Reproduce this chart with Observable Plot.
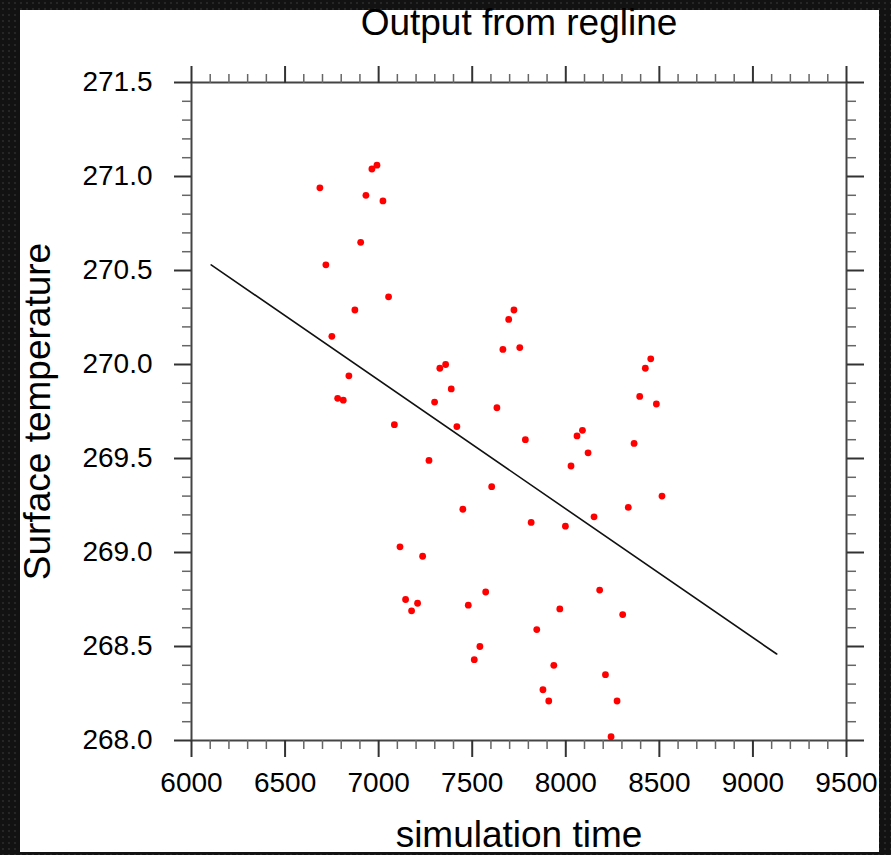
<!DOCTYPE html>
<html>
<head>
<meta charset="utf-8">
<script src="https://cdn.jsdelivr.net/npm/d3@7"></script>
<script src="https://cdn.jsdelivr.net/npm/@observablehq/plot@0.6"></script>
<style>
  html, body { margin: 0; padding: 0; }
  body {
    width: 891px; height: 855px; overflow: hidden; position: relative;
    background: radial-gradient(circle, #262626 1px, transparent 1.6px) 0 0 / 6px 6px, #121212;
  }
  #panel { position: absolute; left: 20px; top: 10px; width: 859px; height: 842px; background: #fff; }
  #chart { position: absolute; left: 0; top: 0; }
</style>
</head>
<body>
<div id="panel"></div>
<div id="chart"></div>
<script>
// simulation time (days) and surface temperature
const time = [6686, 6718, 6750, 6781, 6811, 6841, 6873, 6904, 6932, 6964, 6991, 7023, 7053, 7084, 7114, 7144,
  7176, 7208, 7235, 7269, 7299, 7327, 7358, 7388, 7418, 7450, 7479, 7511, 7541, 7572, 7604, 7632,
  7664, 7695, 7723, 7754, 7784, 7815, 7845, 7878, 7909, 7936, 7968, 7998, 8028, 8060, 8089, 8119,
  8151, 8181, 8212, 8242, 8274, 8304, 8334, 8365, 8395, 8425, 8454, 8484, 8514];
const temp = [270.94, 270.53, 270.15, 269.82, 269.81, 269.94, 270.29, 270.65, 270.90, 271.04, 271.06, 270.87,
  270.36, 269.68, 269.03, 268.75, 268.69, 268.73, 268.98, 269.49, 269.80, 269.98, 270.00, 269.87,
  269.67, 269.23, 268.72, 268.43, 268.50, 268.79, 269.35, 269.77, 270.08, 270.24, 270.29, 270.09,
  269.60, 269.16, 268.59, 268.27, 268.21, 268.40, 268.70, 269.14, 269.46, 269.62, 269.65, 269.53,
  269.19, 268.80, 268.35, 268.02, 268.21, 268.67, 269.24, 269.58, 269.83, 269.98, 270.03, 269.79, 269.30];

// regression line end points
const regTime = [6105, 9127];
const regTemp = [270.53, 268.46];

// tick labels
const xMajor = [6000, 6500, 7000, 7500, 8000, 8500, 9000, 9500];
const yMajor = [268.0, 268.5, 269.0, 269.5, 270.0, 270.5, 271.0, 271.5];
const xMinor = d3.range(6000, 9501, 100).filter(v => v % 500 !== 0);
const yMinor = d3.range(2680, 2716, 1).filter(v => v % 5 !== 0).map(v => v / 10);

const points = time.map((t, i) => ({t, v: temp[i]}));
const reg = regTime.map((t, i) => ({t, v: regTemp[i]}));

const majorStyle = {stroke: "#333", strokeWidth: 2};
const minorStyle = {stroke: "#666", strokeWidth: 1.5};
const blank = () => "";

const plot = Plot.plot({
  width: 891,
  height: 855,
  marginLeft: 191,
  marginRight: 45,
  marginTop: 82,
  marginBottom: 115,
  style: {background: "transparent", fontFamily: "'Liberation Sans', Arial, Helvetica, sans-serif", color: "#000"},
  x: {domain: [6000, 9500], axis: null},
  y: {domain: [268, 271.5], axis: null},
  marks: [
    Plot.line(reg, {x: "t", y: "v", stroke: "#111", strokeWidth: 1.6}),
    Plot.dot(points, {x: "t", y: "v", r: 3.4, fill: "#ff0000", stroke: "none"}),
    Plot.frame({stroke: "#444", strokeWidth: 2}),
    // bottom
    Plot.axisX({anchor: "bottom", ticks: xMinor, tickSize: 9, tickFormat: blank, label: null, ...minorStyle}),
    Plot.axisX({anchor: "bottom", ticks: xMajor, tickSize: 17, tickPadding: 15, tickFormat: d => String(d), fontSize: 28, label: null, ...majorStyle}),
    // top
    Plot.axisX({anchor: "top", ticks: xMinor, tickSize: 9, tickFormat: blank, label: null, ...minorStyle}),
    Plot.axisX({anchor: "top", ticks: xMajor, tickSize: 17, tickFormat: blank, label: null, ...majorStyle}),
    // left
    Plot.axisY({anchor: "left", ticks: yMinor, tickSize: 9, tickFormat: blank, label: null, ...minorStyle}),
    Plot.axisY({anchor: "left", ticks: yMajor, tickSize: 17, tickPadding: 22, tickFormat: d => d.toFixed(1), fontSize: 28, label: null, ...majorStyle}),
    // right
    Plot.axisY({anchor: "right", ticks: yMinor, tickSize: 9, tickFormat: blank, label: null, ...minorStyle}),
    Plot.axisY({anchor: "right", ticks: yMajor, tickSize: 17, tickFormat: blank, label: null, ...majorStyle}),
    // titles
    Plot.text(["Output from regline"], {frameAnchor: "top", dy: -48, lineAnchor: "bottom", textAnchor: "middle", fontSize: 37, fill: "#000"}),
    Plot.text(["simulation time"], {frameAnchor: "bottom", dy: 106, lineAnchor: "bottom", textAnchor: "middle", fontSize: 37, fill: "#000"}),
    Plot.text(["Surface temperature"], {frameAnchor: "left", dx: -142, rotate: -90, lineAnchor: "bottom", textAnchor: "middle", fontSize: 37, fill: "#000"})
  ]
});
document.getElementById("chart").appendChild(plot);
</script>
</body>
</html>
